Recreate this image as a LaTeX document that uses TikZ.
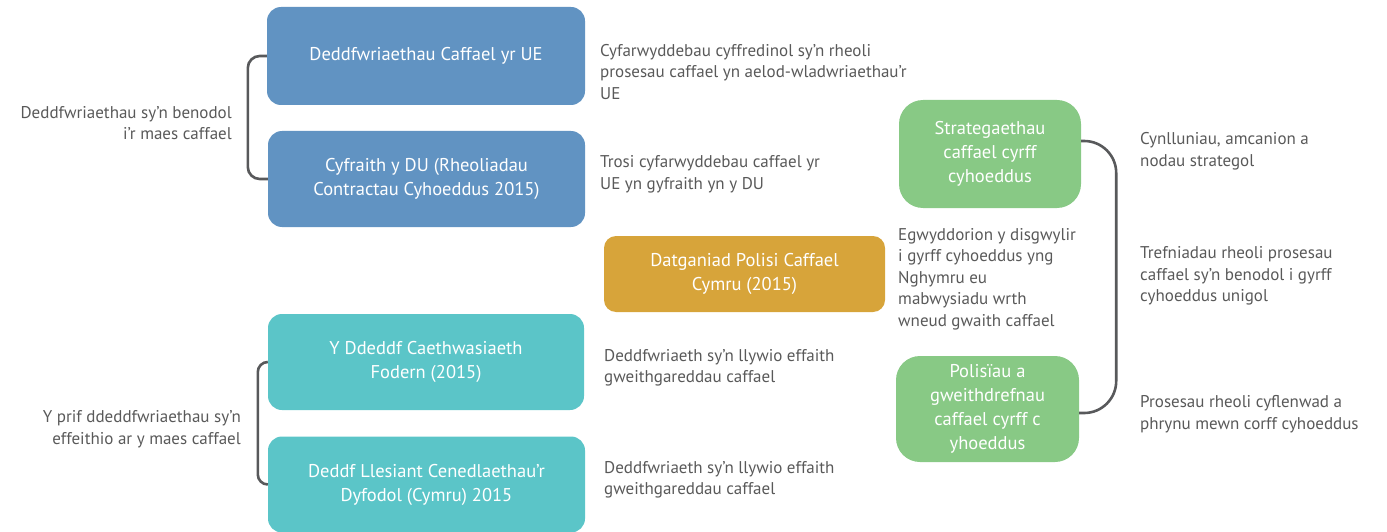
\documentclass[tikz,border=0pt]{standalone}
\usepackage{fontspec}
\setmainfont{PT Sans}
\definecolor{lawblue}{HTML}{6193C2}
\definecolor{actteal}{HTML}{5BC5C8}
\definecolor{policygold}{HTML}{D7A43A}
\definecolor{localgreen}{HTML}{88C985}
\definecolor{notegray}{HTML}{595959}
\definecolor{linegray}{HTML}{58595B}
\begin{document}
\begin{tikzpicture}[x=1pt,y=-1pt,
    box/.style={rounded corners=14pt, inner sep=0pt, text=white, align=center,
      font=\fontsize{18.5}{24}\selectfont},
    note/.style={inner sep=0pt, text=notegray, font=\fontsize{17}{21.5}\selectfont},
    bracket/.style={draw=linegray, line width=2.6pt}]
  \useasboundingbox (0,0) rectangle (1387,532);

  \node[box, fill=lawblue, minimum width=318pt, minimum height=98pt] (eulaw) at (426,56) {Deddfwriaethau Caffael yr UE};
  \node[box, fill=lawblue, minimum width=317pt, minimum height=96pt] (uklaw) at (426.5,179) {Cyfraith y DU (Rheoliadau\\Contractau Cyhoeddus 2015)};
  \node[box, fill=policygold, rounded corners=12pt, minimum width=281pt, minimum height=76pt] (wpps) at (744.5,274) {Datganiad Polisi Caffael\\Cymru (2015)};
  \node[box, fill=actteal, minimum width=316pt, minimum height=96pt] (slavery) at (426,362) {Y Ddeddf Caethwasiaeth\\Fodern (2015)};
  \node[box, fill=actteal, minimum width=317pt, minimum height=96pt] (wellbeing) at (426.5,484.5) {Deddf Llesiant Cenedlaethau'r\\Dyfodol (Cymru) 2015};
  \node[box, fill=localgreen, rounded corners=24pt, minimum width=182pt, minimum height=108pt] (strategy) at (990,154) {Strategaethau\\caffael cyrff\\cyhoeddus};
  \node[box, fill=localgreen, rounded corners=24pt, minimum width=183pt, minimum height=106pt] (procedures) at (987.5,409) {Polisïau a\\gweithdrefnau\\caffael cyrff c\\yhoeddus};

  \node[note, anchor=east, align=right] (specific) at (232,123) {Deddfwriaethau sy'n benodol\\i'r maes caffael};
  \node[note, anchor=east, align=right] (affecting) at (241,429) {Y prif ddeddfwriaethau sy'n\\effeithio ar y maes caffael};
  \node[note, anchor=west, align=left] (eunote) at (600,72) {Cyfarwyddebau cyffredinol sy'n rheoli\\prosesau caffael yn aelod-wladwriaethau'r\\UE};
  \node[note, anchor=west, align=left] (uknote) at (600,174.5) {Trosi cyfarwyddebau caffael yr\\UE yn gyfraith yn y DU};
  \node[note, anchor=west, align=left] (wppsnote) at (898,279) {Egwyddorion y disgwylir\\i gyrff cyhoeddus yng\\Nghymru eu\\mabwysiadu wrth\\wneud gwaith caffael};
  \node[note, anchor=west, align=left] (slaverynote) at (604,368) {Deddfwriaeth sy'n llywio effaith\\gweithgareddau caffael};
  \node[note, anchor=west, align=left] (wellbeingnote) at (604,480) {Deddfwriaeth sy'n llywio effaith\\gweithgareddau caffael};
  \node[note, anchor=west, align=left] (strategynote) at (1140,151.5) {Cynlluniau, amcanion a\\nodau strategol};
  \node[note, anchor=west, align=left] (arrangenote) at (1140,276) {Trefniadau rheoli prosesau\\caffael sy'n benodol i gyrff\\cyhoeddus unigol};
  \node[note, anchor=west, align=left] (procnote) at (1140,414) {Prosesau rheoli cyflenwad a\\phrynu mewn corff cyhoeddus};

  \draw[bracket, rounded corners=12pt] (eulaw.west) -- ++(-19,0) |- (uklaw.west);
  \draw[bracket, rounded corners=10pt] (slavery.west) -- ++(-10,0) |- (wellbeing.west);
  \draw[bracket, rounded corners=32pt] ([yshift=13pt]strategy.east) -| ++(35,150) |- ([yshift=-4pt]procedures.east);
\end{tikzpicture}
\end{document}
